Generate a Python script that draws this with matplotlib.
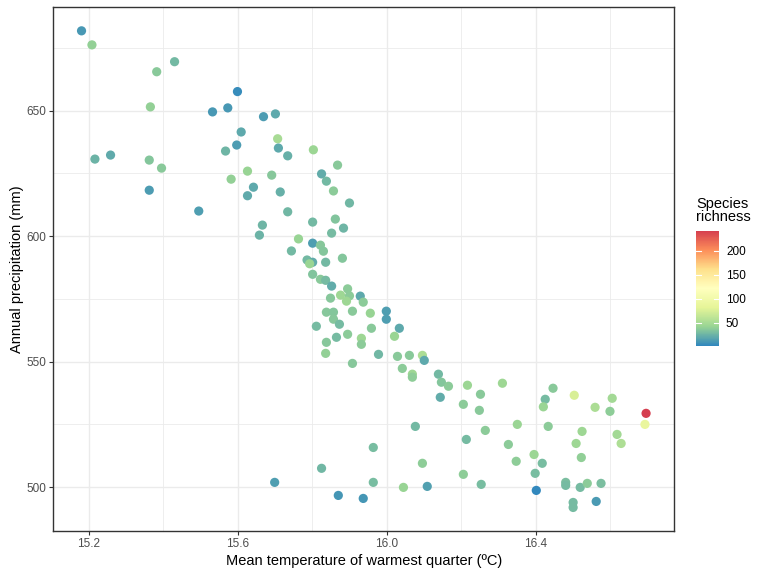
import numpy as np
import matplotlib.pyplot as plt
from matplotlib.colors import LinearSegmentedColormap

# Mean temperature of warmest quarter (ºC)
temp = [15.180, 15.208, 15.430, 15.382, 15.599, 15.365, 15.532, 15.573, 15.669, 15.701,
        15.609, 15.707, 15.597, 15.709, 15.734, 15.567, 15.216, 15.258, 15.362, 15.395,
        15.626, 15.691, 15.582, 15.642, 15.626, 15.714, 15.362, 15.495, 15.734, 15.666,
        15.658, 15.763, 15.744, 15.803, 15.868, 15.825, 15.838, 15.857, 15.900, 15.801,
        15.862, 15.884, 15.852, 15.801, 15.822, 15.830, 15.786, 15.801, 15.793, 15.836,
        15.881, 15.801, 15.822, 15.836, 15.852, 15.895, 15.876, 15.900, 15.929, 15.849,
        15.892, 15.937, 15.838, 15.857, 15.908, 15.956, 15.999, 15.999, 15.857, 15.873,
        15.811, 15.959, 16.034, 15.895, 15.865, 15.932, 15.932, 16.021, 15.838, 15.836,
        15.978, 16.029, 16.061, 16.096, 16.101, 15.908, 16.042, 16.069, 16.069, 16.139,
        16.147, 16.166, 16.217, 16.252, 16.311, 16.144, 16.206, 16.249, 16.447, 16.426,
        16.421, 16.504, 16.560, 16.606, 16.600, 16.697, 16.694, 16.077, 16.351, 16.434,
        16.265, 16.525, 16.619, 16.630, 16.214, 16.327, 16.509, 16.396, 16.348, 16.418,
        16.523, 16.096, 16.206, 16.399, 16.254, 16.481, 16.481, 16.520, 16.539, 16.576,
        16.045, 16.109, 16.402, 16.501, 16.501, 16.563, 15.964, 15.825, 15.964, 15.699,
        15.870, 15.937]

# Annual precipitation (mm)
precip = [681.8, 676.2, 669.5, 665.5, 657.6, 651.5, 649.5, 651.1, 647.6, 648.7,
          641.5, 638.8, 636.3, 635.1, 632.0, 633.9, 630.7, 632.3, 630.3, 627.1,
          625.9, 624.3, 622.7, 619.5, 616.1, 617.6, 618.3, 610.0, 609.7, 604.4,
          600.4, 598.9, 594.1, 634.4, 628.3, 624.8, 621.9, 618.0, 613.2, 605.6,
          606.8, 603.2, 601.2, 597.2, 596.4, 594.0, 590.5, 589.6, 589.0, 589.6,
          591.2, 584.8, 582.8, 582.4, 580.1, 579.0, 576.5, 576.2, 576.1, 575.3,
          574.1, 573.7, 569.7, 569.7, 570.1, 569.3, 570.1, 566.9, 566.9, 564.9,
          564.1, 563.3, 563.3, 560.9, 559.7, 559.3, 556.9, 560.1, 557.7, 553.3,
          552.9, 552.1, 552.5, 552.5, 550.5, 549.3, 547.3, 545.0, 543.8, 545.0,
          541.8, 540.2, 540.6, 537.0, 541.4, 535.8, 533.0, 530.6, 539.4, 535.0,
          532.0, 536.6, 531.8, 535.4, 530.2, 529.4, 525.0, 524.2, 525.0, 524.2,
          522.6, 522.2, 521.0, 517.4, 519.0, 517.0, 517.4, 513.0, 510.3, 509.5,
          511.8, 509.5, 505.1, 505.5, 501.1, 501.9, 500.7, 499.9, 501.5, 501.5,
          499.9, 500.3, 498.7, 493.9, 491.9, 494.3, 515.8, 507.5, 501.9, 501.9,
          496.7, 495.5]

# Species richness
richness = [11, 40, 28, 36, 4, 40, 11, 11, 13, 19,
            19, 50, 13, 19, 23, 26, 25, 20, 34, 36,
            42, 35, 40, 19, 20, 23, 13, 14, 27, 26,
            25, 42, 28, 44, 36, 21, 28, 37, 27, 28,
            33, 26, 29, 14, 35, 34, 28, 21, 43, 28,
            34, 33, 36, 29, 21, 37, 45, 37, 19, 35,
            45, 37, 35, 34, 36, 42, 14, 14, 35, 29,
            29, 36, 19, 37, 29, 45, 37, 43, 35, 40,
            27, 36, 36, 52, 19, 35, 37, 45, 38, 28,
            34, 37, 44, 36, 45, 21, 37, 36, 36, 29,
            43, 75, 52, 47, 38, 242, 88, 28, 43, 37,
            37, 45, 47, 53, 29, 37, 45, 44, 38, 30,
            39, 38, 38, 30, 30, 31, 29, 29, 37, 31,
            42, 15, 2, 29, 29, 12, 30, 27, 30, 14,
            10, 10]

xticks = [15.2, 15.6, 16.0, 16.4]
xminor = [15.4, 15.8, 16.2, 16.6]
yticks = [500, 550, 600, 650]
yminor = [525, 575, 625, 675]
cticks = [50, 100, 150, 200]

plt.rcParams['font.family'] = ['Liberation Sans', 'DejaVu Sans']

spectral = ['#3288BD', '#99D594', '#E6F598', '#FFFFBF', '#FEE08B', '#FC8D59', '#D53E4F']
cmap = LinearSegmentedColormap.from_list('spectral_r', spectral)

fig = plt.figure(figsize=(7.68, 5.76), dpi=100)
ax = fig.add_axes([53.3/768, 1-531.3/576, (674.3-53.3)/768, (531.3-7)/576])

sc = ax.scatter(temp, precip, c=richness, cmap=cmap,
                vmin=min(richness), vmax=max(richness),
                s=44, linewidths=0, zorder=3)

# ggplot style 5% expansion
xr = max(temp) - min(temp)
yr = max(precip) - min(precip)
ax.set_xlim(min(temp) - 0.05*xr, max(temp) + 0.05*xr)
ax.set_ylim(min(precip) - 0.05*yr, max(precip) + 0.05*yr)

ax.set_xticks(xticks)
ax.set_xticklabels([f'{t:.1f}' for t in xticks])
ax.set_xticks(xminor, minor=True)
ax.set_yticks(yticks)
ax.set_yticks(yminor, minor=True)
ax.grid(which='major', color='#EBEBEB', linewidth=1.0, zorder=0)
ax.grid(which='minor', color='#EBEBEB', linewidth=0.6, zorder=0)
ax.set_axisbelow(True)
ax.tick_params(which='major', length=3, width=0.8, color='#333333',
               labelcolor='#4D4D4D', labelsize=8.5, pad=2)
ax.tick_params(which='minor', length=0)
for sp in ax.spines.values():
    sp.set_color('#333333')
    sp.set_linewidth(1.0)

ax.set_xlabel('Mean temperature of warmest quarter (ºC)', fontsize=10.5, labelpad=3)
ax.set_ylabel('Annual precipitation (mm)', fontsize=10.5, labelpad=2)

cax = fig.add_axes([696/768, 1-345.7/576, 23/768, 115/576])
cb = fig.colorbar(sc, cax=cax)
cb.outline.set_visible(False)
cb.set_ticks(cticks)
cax.tick_params(length=0, labelsize=8.5, labelcolor='black', pad=5)
tr = cax.get_yaxis_transform()
for t in cticks:
    cax.plot([0, 0.2], [t, t], color='white', lw=0.8, transform=tr)
    cax.plot([0.8, 1], [t, t], color='white', lw=0.8, transform=tr)

fig.text(696/768, 1-224/576, 'Species\nrichness', fontsize=10.5,
         ha='left', va='bottom', linespacing=0.95)

fig.savefig('out.png', dpi=100)
